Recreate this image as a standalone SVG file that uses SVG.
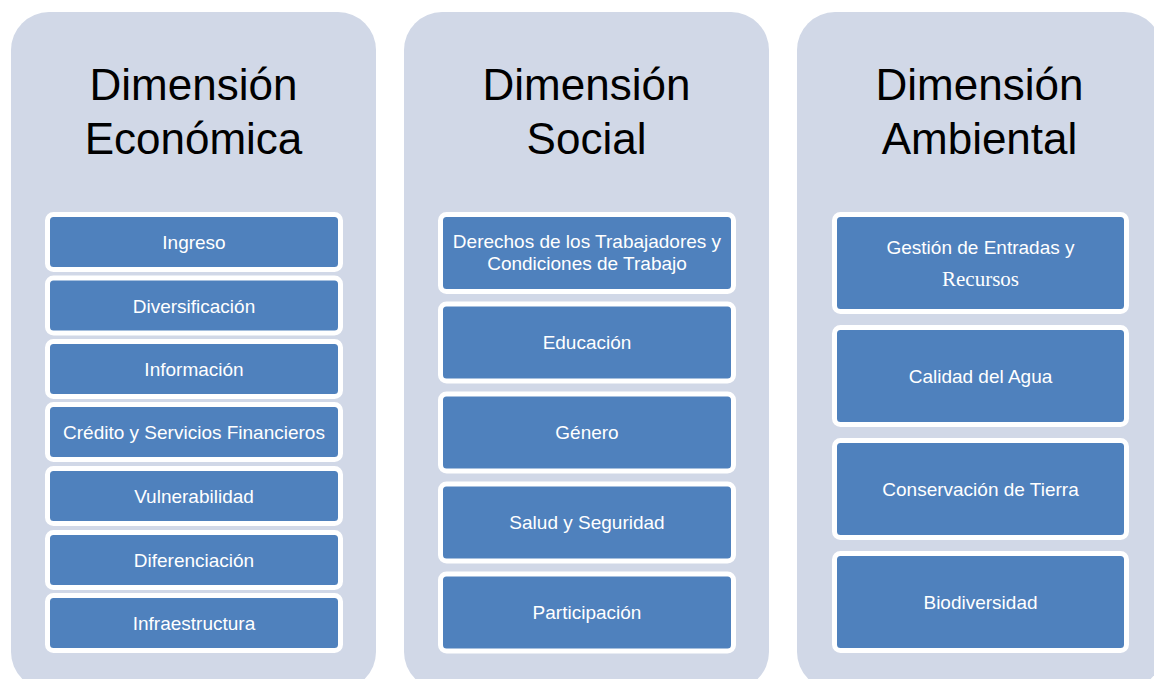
<svg xmlns="http://www.w3.org/2000/svg" width="1154" height="679" viewBox="0 0 1154 679">
<style>
.panel{fill:#D1D8E7}
.title{font-family:"Liberation Sans",Arial,sans-serif;font-size:44px;fill:#000;text-anchor:middle}
.box{fill:#4F81BD;stroke:#FFFFFF;stroke-width:5}
.lbl{font-family:"Liberation Sans",Arial,sans-serif;font-size:19px;fill:#FFFFFF;text-anchor:middle}
.ser{font-family:"Liberation Serif","Times New Roman",serif;font-size:21px;fill:#FFFFFF;text-anchor:middle}
</style>
<rect width="1154" height="679" fill="#FFFFFF"/>
<g id="panel-economica">
<rect class="panel" x="11" y="12" width="365" height="678" rx="38"/>
<text class="title" x="193.5" y="100">Dimensión</text>
<text class="title" x="193.5" y="154">Económica</text>
</g>
<g id="panel-social">
<rect class="panel" x="404" y="12" width="365" height="678" rx="38"/>
<text class="title" x="586.5" y="100">Dimensión</text>
<text class="title" x="586.5" y="154">Social</text>
</g>
<g id="panel-ambiental">
<rect class="panel" x="797" y="12" width="365" height="678" rx="38"/>
<text class="title" x="979.5" y="100">Dimensión</text>
<text class="title" x="979.5" y="154">Ambiental</text>
</g>
<g id="connectors"></g>
<g id="e1"><rect class="box" x="47.5" y="214.5" width="293" height="55" rx="6"/><text class="lbl" x="194" y="249">Ingreso</text></g>
<g id="e2"><rect class="box" x="47.5" y="278" width="293" height="55" rx="6"/><text class="lbl" x="194" y="312.5">Diversificación</text></g>
<g id="e3"><rect class="box" x="47.5" y="341.5" width="293" height="55" rx="6"/><text class="lbl" x="194" y="376">Información</text></g>
<g id="e4"><rect class="box" x="47.5" y="404.5" width="293" height="55" rx="6"/><text class="lbl" x="194" y="439">Crédito y Servicios Financieros</text></g>
<g id="e5"><rect class="box" x="47.5" y="468.5" width="293" height="55" rx="6"/><text class="lbl" x="194" y="503">Vulnerabilidad</text></g>
<g id="e6"><rect class="box" x="47.5" y="532.5" width="293" height="55" rx="6"/><text class="lbl" x="194" y="567">Diferenciación</text></g>
<g id="e7"><rect class="box" x="47.5" y="595.5" width="293" height="55" rx="6"/><text class="lbl" x="194" y="630">Infraestructura</text></g>
<g id="s1"><rect class="box" x="440.5" y="214.5" width="293" height="77" rx="6"/><text class="lbl" x="587" y="248">Derechos de los Trabajadores y</text><text class="lbl" x="587" y="270">Condiciones de Trabajo</text></g>
<g id="s2"><rect class="box" x="440.5" y="304" width="293" height="77" rx="6"/><text class="lbl" x="587" y="349">Educación</text></g>
<g id="s3"><rect class="box" x="440.5" y="394" width="293" height="77" rx="6"/><text class="lbl" x="587" y="439">Género</text></g>
<g id="s4"><rect class="box" x="440.5" y="484" width="293" height="77" rx="6"/><text class="lbl" x="587" y="529">Salud y Seguridad</text></g>
<g id="s5"><rect class="box" x="440.5" y="574" width="293" height="77" rx="6"/><text class="lbl" x="587" y="619">Participación</text></g>
<g id="a1"><rect class="box" x="834.5" y="214.5" width="292" height="97" rx="6"/><text class="lbl" x="980.5" y="254">Gestión de Entradas y</text><text class="ser" x="980.5" y="286">Recursos</text></g>
<g id="a2"><rect class="box" x="834.5" y="327.5" width="292" height="97" rx="6"/><text class="lbl" x="980.5" y="383">Calidad del Agua</text></g>
<g id="a3"><rect class="box" x="834.5" y="440.5" width="292" height="97" rx="6"/><text class="lbl" x="980.5" y="496">Conservación de Tierra</text></g>
<g id="a4"><rect class="box" x="834.5" y="553.5" width="292" height="97" rx="6"/><text class="lbl" x="980.5" y="609">Biodiversidad</text></g>
</svg>
